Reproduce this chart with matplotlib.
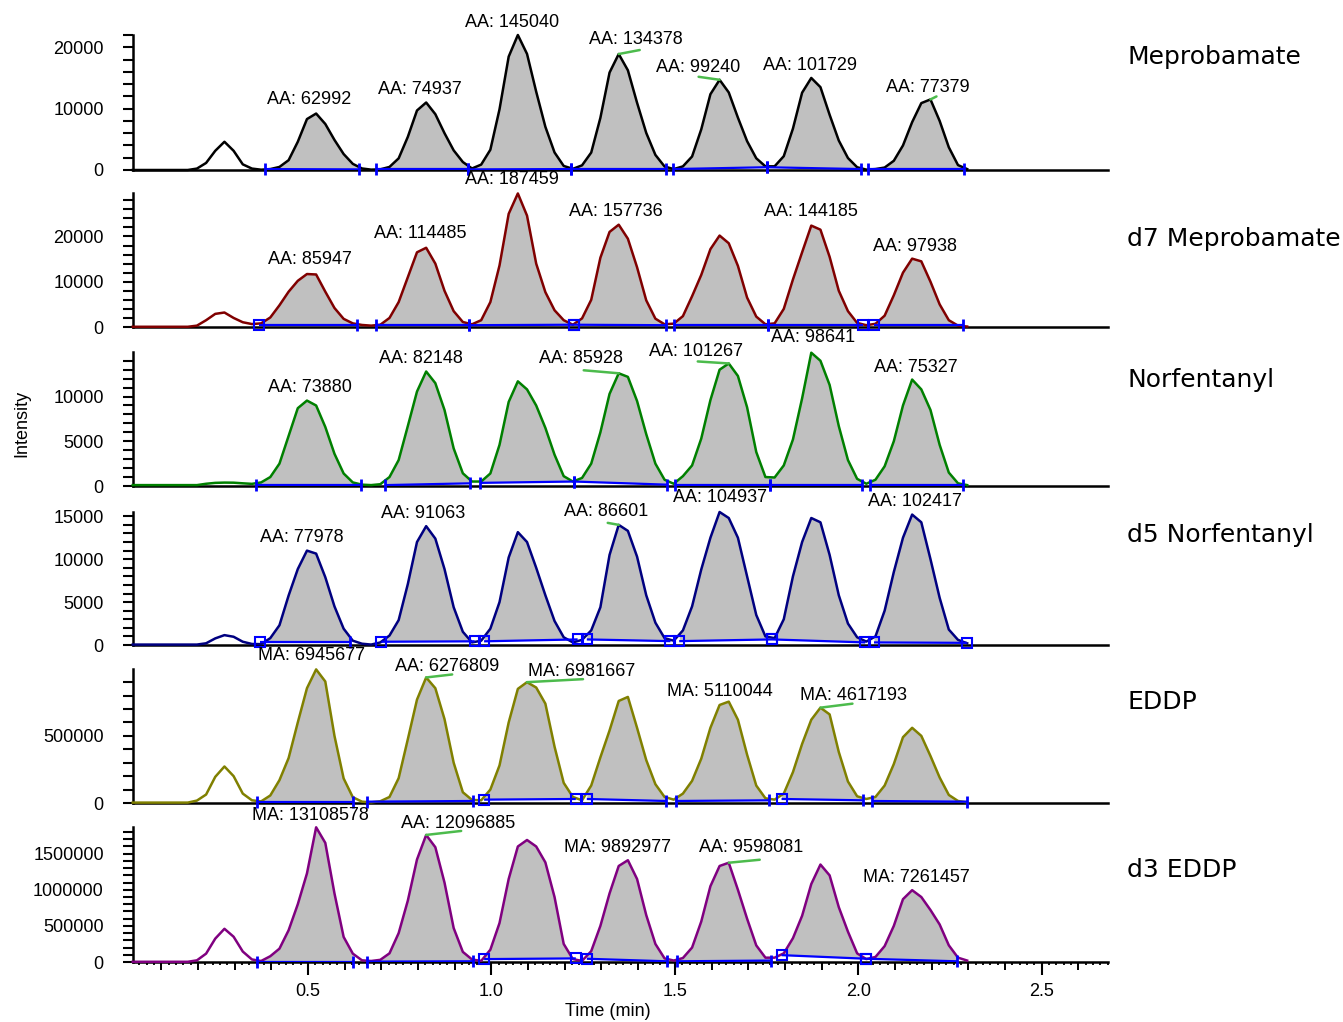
import numpy as np
import matplotlib
matplotlib.use("Agg")
import matplotlib.pyplot as plt
from matplotlib.ticker import MultipleLocator, FuncFormatter

plt.rcParams["font.family"] = ["Liberation Sans", "DejaVu Sans"]

W, H = 1343, 1022

# retention time grid (min), one scan every ~1.5 s
TIME = [0.022, 0.047, 0.072, 0.097, 0.122, 0.147, 0.172, 0.197, 0.222, 0.247,
        0.272, 0.297, 0.322, 0.347, 0.372, 0.397, 0.422, 0.447, 0.472, 0.497,
        0.522, 0.547, 0.572, 0.597, 0.622, 0.647, 0.672, 0.697, 0.722, 0.747,
        0.772, 0.797, 0.822, 0.847, 0.872, 0.897, 0.922, 0.947, 0.972, 0.997,
        1.022, 1.047, 1.072, 1.097, 1.122, 1.147, 1.172, 1.197, 1.222, 1.247,
        1.272, 1.297, 1.322, 1.347, 1.372, 1.397, 1.422, 1.447, 1.472, 1.497,
        1.522, 1.547, 1.572, 1.597, 1.622, 1.647, 1.672, 1.697, 1.722, 1.747,
        1.772, 1.797, 1.822, 1.847, 1.872, 1.897, 1.922, 1.947, 1.972, 1.997,
        2.022, 2.047, 2.072, 2.097, 2.122, 2.147, 2.172, 2.197, 2.222, 2.247,
        2.272, 2.297]

MEPROBAMATE = [0, 0, 0, 0, 0, 0, 0,
               230, 1150, 3130, 4600, 3130, 920, 230, 50,
               150, 500, 1600, 4600, 8300, 9200, 7500, 4900, 2600, 1000, 250,
               60, 110, 500, 1900, 5400, 9700, 11000, 9100, 6000, 3200, 1300,
               250, 880, 3300, 9900, 18480, 22000, 18920, 12760, 7040, 2860, 660,
               190, 760, 2840, 8500, 15880, 18900, 16250, 10960, 6050, 2460, 570,
               150, 590, 2200, 6620, 12350, 14700, 12640, 8530, 4700, 1910,
               590, 600, 2250, 6750, 12600, 15000, 13500, 9000, 4800, 1950, 450,
               60, 150, 400, 1500, 4000, 7800, 10900, 11500, 8000, 3700, 800, 150]

D7_MEPROBAMATE = [50, 50, 50, 50, 50, 50, 50,
                  300, 1500, 2900, 3200, 2000, 1050, 650, 800,
                  2100, 4800, 7800, 10200, 11700, 11600, 7800, 4200, 1800, 800, 450,
                  300, 500, 2000, 5500, 11000, 16500, 17500, 14000, 8000, 3500, 1100,
                  600, 1500, 5500, 13600, 25000, 29500, 24600, 14000, 7700, 3700, 1500,
                  500, 1900, 6000, 15300, 21000, 22600, 19500, 13200, 5900, 1840, 600,
                  740, 2400, 6800, 11500, 17200, 20200, 18500, 13500, 6500, 2300,
                  600, 800, 4000, 10500, 16500, 22400, 21500, 15500, 8000, 3500, 900,
                  400, 700, 2500, 7000, 12000, 15100, 14500, 10000, 5000, 1500, 300, 100]

NORFENTANYL = [100, 100, 100, 100, 100, 100, 100, 100,
               250, 350, 380, 370, 300, 240, 400,
               1000, 2500, 5600, 8700, 9550, 9000, 6600, 3600, 1400, 400, 150,
               100, 200, 1000, 2900, 6700, 10560, 12800, 11500, 8500, 4200, 1420,
               500, 500, 1400, 4600, 9400, 11700, 10800, 9000, 6500, 3500, 1100,
               500, 900, 2500, 6000, 10300, 12600, 12200, 9500, 5800, 2500, 700,
               250, 1100, 2300, 5300, 9600, 13000, 13700, 12300, 8800, 3800,
               1000, 950, 2300, 5200, 9800, 14900, 14000, 11300, 6700, 2900, 800,
               250, 700, 2200, 5000, 9000, 11900, 10800, 8500, 4600, 1500, 300, 100]

D5_NORFENTANYL = [50, 50, 50, 50, 50, 50, 50,
                  50, 200, 770, 1150, 960, 380, 120, 100,
                  800, 2300, 5770, 8850, 11000, 10650, 7900, 4500, 1900, 500, 150,
                  50, 300, 1100, 2900, 7100, 12000, 13850, 12400, 8850, 4400, 1540,
                  300, 500, 1900, 5000, 10200, 13150, 12000, 9000, 5800, 2800, 900,
                  300, 600, 1700, 4400, 10500, 14000, 13300, 10300, 5800, 2600, 800,
                  500, 1700, 4500, 8800, 12500, 15500, 14800, 12500, 8000, 3500,
                  1000, 800, 3000, 8000, 12000, 14800, 14300, 10500, 5800, 2500, 900,
                  400, 1000, 4000, 8500, 12500, 15200, 14300, 10000, 5500, 1800, 600, 200]

EDDP = [3000, 3000, 3000, 3000, 3000, 3000, 3000,
        18000, 63000, 195000, 272000, 200000, 70000, 20000, 12000,
        56000, 170000, 335000, 600000, 855000, 995000, 905000, 500000, 183000, 43000, 10000,
        5000, 13000, 45000, 185000, 475000, 770000, 935000, 855000, 625000, 300000, 80000,
        23000, 20000, 100000, 280000, 600000, 850000, 900000, 860000, 740000, 420000, 150000,
        45000, 20000, 130000, 340000, 540000, 760000, 790000, 560000, 320000, 140000, 45000,
        25000, 70000, 165000, 330000, 560000, 730000, 755000, 620000, 360000, 130000,
        35000, 25000, 70000, 230000, 440000, 620000, 710000, 660000, 380000, 160000, 50000,
        30000, 45000, 130000, 290000, 490000, 560000, 500000, 350000, 190000, 60000, 15000, 5000]

D3_EDDP = [3000, 3000, 3000, 3000, 3000, 3000, 3000,
           23000, 116000, 324000, 460000, 350000, 145000, 35000, 14000,
           80000, 185000, 440000, 800000, 1227000, 1866000, 1650000, 950000, 347000, 116000, 23000,
           14000, 30000, 120000, 400000, 850000, 1420000, 1760000, 1590000, 1100000, 470000, 140000,
           35000, 15000, 170000, 540000, 1150000, 1600000, 1690000, 1600000, 1380000, 900000, 250000,
           40000, 15000, 150000, 500000, 950000, 1330000, 1410000, 1150000, 650000, 250000, 50000,
           20000, 55000, 200000, 560000, 1050000, 1330000, 1375000, 1000000, 600000, 230000,
           60000, 60000, 120000, 330000, 640000, 1080000, 1350000, 1200000, 760000, 420000, 120000,
           40000, 70000, 220000, 500000, 870000, 995000, 900000, 720000, 520000, 231000, 60000, 20000]

COMPOUNDS = ["Meprobamate", "d7 Meprobamate", "Norfentanyl", "d5 Norfentanyl", "EDDP", "d3 EDDP"]

# integration windows (start, end) in min
MEPROBAMATE_WIN = [(0.382, 0.640), (0.684, 0.936), (0.936, 1.218), (1.218, 1.476),
                   (1.496, 1.750), (1.750, 2.008), (2.028, 2.289)]
D7_MEPROBAMATE_WIN = [(0.365, 0.633), (0.686, 0.939), (0.939, 1.225), (1.225, 1.476),
                      (1.498, 1.753), (1.753, 2.014), (2.043, 2.287)]
NORFENTANYL_WIN = [(0.358, 0.643), (0.711, 0.942), (0.970, 1.225), (1.225, 1.478),
                   (1.500, 1.759), (1.759, 2.009), (2.033, 2.287)]
D5_NORFENTANYL_WIN = [(0.368, 0.613), (0.700, 0.954), (0.980, 1.235), (1.260, 1.488),
                      (1.512, 1.765), (1.765, 2.019), (2.043, 2.296)]
EDDP_WIN = [(0.362, 0.623), (0.662, 0.949), (0.980, 1.230), (1.260, 1.476),
            (1.502, 1.756), (1.791, 2.012), (2.038, 2.296)]
D3_EDDP_WIN = [(0.362, 0.623), (0.662, 0.949), (0.980, 1.230), (1.260, 1.478),
               (1.507, 1.761), (1.791, 2.022), (2.022, 2.269)]

# baseline intensity at window start / end
MEPROBAMATE_BASE = [(150, 100), (100, 100), (100, 150), (150, 150), (150, 450), (450, 150), (150, 150)]
D7_MEPROBAMATE_BASE = [(400, 400), (400, 400), (400, 500), (500, 400), (400, 400), (400, 400), (400, 400)]
NORFENTANYL_BASE = [(150, 150), (100, 300), (350, 500), (500, 150), (150, 150), (150, 150), (150, 150)]
D5_NORFENTANYL_BASE = [(380, 380), (380, 430), (430, 650), (650, 450), (450, 650), (650, 300), (300, 250)]
EDDP_BASE = [(10000, 10000), (10000, 15000), (25000, 30000), (30000, 15000),
             (15000, 20000), (30000, 20000), (15000, 10000)]
D3_EDDP_BASE = [(5000, 5000), (5000, 10000), (40000, 50000), (45000, 10000),
                (10000, 20000), (95000, 45000), (45000, 10000)]

MEPROBAMATE_AREAS = ["AA: 62992", "AA: 74937", "AA: 145040", "AA: 134378", "AA: 99240", "AA: 101729", "AA: 77379"]
D7_MEPROBAMATE_AREAS = ["AA: 85947", "AA: 114485", "AA: 187459", "AA: 157736", None, "AA: 144185", "AA: 97938"]
NORFENTANYL_AREAS = ["AA: 73880", "AA: 82148", None, "AA: 85928", "AA: 101267", "AA: 98641", "AA: 75327"]
D5_NORFENTANYL_AREAS = ["AA: 77978", "AA: 91063", None, "AA: 86601", "AA: 104937", None, "AA: 102417"]
EDDP_AREAS = ["MA: 6945677", "AA: 6276809", "MA: 6981667", None, "MA: 5110044", "MA: 4617193", None]
D3_EDDP_AREAS = ["MA: 13108578", "AA: 12096885", None, "MA: 9892977", "AA: 9598081", None, "MA: 7261457"]

traces = [MEPROBAMATE, D7_MEPROBAMATE, NORFENTANYL, D5_NORFENTANYL, EDDP, D3_EDDP]
windows = [MEPROBAMATE_WIN, D7_MEPROBAMATE_WIN, NORFENTANYL_WIN, D5_NORFENTANYL_WIN, EDDP_WIN, D3_EDDP_WIN]
bases = [MEPROBAMATE_BASE, D7_MEPROBAMATE_BASE, NORFENTANYL_BASE, D5_NORFENTANYL_BASE, EDDP_BASE, D3_EDDP_BASE]
areas = [MEPROBAMATE_AREAS, D7_MEPROBAMATE_AREAS, NORFENTANYL_AREAS, D5_NORFENTANYL_AREAS, EDDP_AREAS, D3_EDDP_AREAS]

# ---- layout / style ----
COLORS = ["#000000", "#800000", "#008000", "#000080", "#808000", "#800080"]
YMAX = [22000, 29600, 14980, 15500, 998000, 1870000]
YMAJOR = [10000, 10000, 5000, 5000, 500000, 500000]
YMINOR = [2000, 2000, 1000, 1000, 100000, 100000]
PANEL_PX = [(35, 170), (193, 327), (352, 486), (512, 645), (669, 803), (827, 962)]
NAME_Y = [57, 239, 380, 535, 702, 870]
AX_LEFT, AX_RIGHT = 133, 1108
XLIM = (0.0227, 2.681)

# end markers of each baseline: s = open square, | = tick
ENDS = [
    ["||", "||", "||", "||", "||", "||", "||"],
    ["s|", "||", "|s", "s|", "||", "|s", "s|"],
    ["||", "||", "||", "||", "||", "||", "||"],
    ["s|", "ss", "ss", "ss", "ss", "ss", "ss"],
    ["||", "||", "ss", "s|", "||", "s|", "||"],
    ["||", "||", "ss", "s|", "||", "ss", "s|"],
]

LABEL_PX = [
    [(309, 100), (420, 90), (512, 22), (636, 40), (698, 68), (810, 65), (928, 87)],
    [(310, 259), (420, 234), (512, 180), (616, 212), None, (811, 212), (915, 246)],
    [(310, 388), (421, 358), None, (581, 358), (696, 351), (813, 338), (916, 367)],
    [(302, 537), (423, 513), None, (606, 512), (720, 497), None, (915, 501)],
    [(312, 655), (447, 666), (582, 672), None, (720, 691), (854, 696), None],
    [(310, 815), (458, 823), None, (618, 847), (751, 847), None, (916, 877)],
]

# green leader lines: (panel, peak, dx, dy) in pixels from the apex
LEADERS = [(0, 3, 21, 4), (0, 4, -21, 3), (0, 6, 6, 3), (2, 3, -35, 3), (2, 4, -31, 2),
           (3, 3, -11, 2), (4, 1, 26, 3), (4, 2, 56, 3), (4, 5, 32, 4), (5, 1, 35, 4), (5, 4, 31, 3)]

BLUE = "#0000ff"
FILL = "#c0c0c0"
LEADER = "#4cbb4c"

fig = plt.figure(figsize=(W / 100, H / 100), dpi=100)
t = np.array(TIME, dtype=float)
axes = []
apexes = []

for k in range(6):
    top, bottom = PANEL_PX[k]
    ax = fig.add_axes([AX_LEFT / W, 1 - bottom / H, (AX_RIGHT - AX_LEFT) / W, (bottom - top) / H])
    axes.append(ax)
    y = np.array(traces[k], dtype=float)
    assert len(y) == len(t), (k, len(y))

    peak_tops = []
    for j, ((t0, t1), (b0, b1)) in enumerate(zip(windows[k], bases[k])):
        inner = t[(t > t0) & (t < t1)]
        ts = np.concatenate([[t0], inner, [t1]])
        ys = np.interp(ts, t, y)
        bs = np.interp(ts, [t0, t1], [b0, b1])
        ax.fill_between(ts, bs, ys, color=FILL, lw=0, zorder=1, clip_on=False)
        ax.plot([t0, t1], [b0, b1], color=BLUE, lw=1.6, zorder=4, solid_capstyle="butt")
        for (tt, bb), code in zip([(t0, b0), (t1, b1)], ENDS[k][j]):
            if code == "s":
                ax.plot(tt, bb, marker="s", ms=6.5, mfc="none", mec=BLUE, mew=1.5, zorder=5, clip_on=False)
            else:
                ax.plot(tt, bb, marker="|", ms=8, mec=BLUE, mew=2, zorder=5, clip_on=False)
        m = (t >= t0) & (t <= t1)
        i = np.argmax(np.where(m, y, -1))
        peak_tops.append((t[i], y[i]))
    apexes.append(peak_tops)

    ax.plot(t, y, color=COLORS[k], lw=1.8, zorder=3, clip_on=False)

    ax.set_xlim(*XLIM)
    ax.set_ylim(0, YMAX[k])
    for s in ["top", "right"]:
        ax.spines[s].set_visible(False)
    for s in ["left", "bottom"]:
        ax.spines[s].set_linewidth(1.8)
    ax.yaxis.set_major_locator(MultipleLocator(YMAJOR[k]))
    ax.yaxis.set_minor_locator(MultipleLocator(YMINOR[k]))
    ax.yaxis.set_major_formatter(FuncFormatter(lambda v, _: f"{v:.0f}"))
    ax.tick_params(axis="y", which="both", direction="out", length=7, width=1.5, pad=14, labelsize=13)

    if k < 5:
        ax.tick_params(axis="x", which="both", bottom=False, labelbottom=False)
    else:
        ax.xaxis.set_major_locator(MultipleLocator(0.5))
        ax.xaxis.set_minor_locator(MultipleLocator(0.1))
        ax.xaxis.set_major_formatter(FuncFormatter(lambda v, _: f"{v:.1f}"))
        ax.tick_params(axis="x", which="major", length=9, width=1.5, pad=6, labelsize=13)
        ax.tick_params(axis="x", which="minor", length=6, width=1.4)
        sec = ax.secondary_xaxis("bottom")
        sec.xaxis.set_major_locator(MultipleLocator(0.02))
        sec.tick_params(axis="x", length=2.5, width=1.3, labelbottom=False)
        sec.spines["bottom"].set_visible(False)

    for lab, pos in zip(areas[k], LABEL_PX[k]):
        if lab is None:
            continue
        fig.text(pos[0] / W, 1 - pos[1] / H, lab, ha="center", va="center", fontsize=13)

    fig.text(1127 / W, 1 - NAME_Y[k] / H, COMPOUNDS[k], ha="left", va="center",
             fontsize=18, family="DejaVu Sans")

for k, j, dx, dy in LEADERS:
    tx, ty = apexes[k][j]
    axes[k].annotate("", xy=(tx, ty), xytext=(dx, dy), textcoords="offset pixels",
                     arrowprops=dict(arrowstyle="-", color=LEADER, lw=1.8, shrinkA=0, shrinkB=0),
                     annotation_clip=False)

fig.text(22 / W, 1 - 423 / H, "Intensity", rotation=90, ha="center", va="center", fontsize=13)
fig.text(608 / W, 1 - 1012 / H, "Time (min)", ha="center", va="center", fontsize=13)

fig.savefig("out.png", dpi=100)
